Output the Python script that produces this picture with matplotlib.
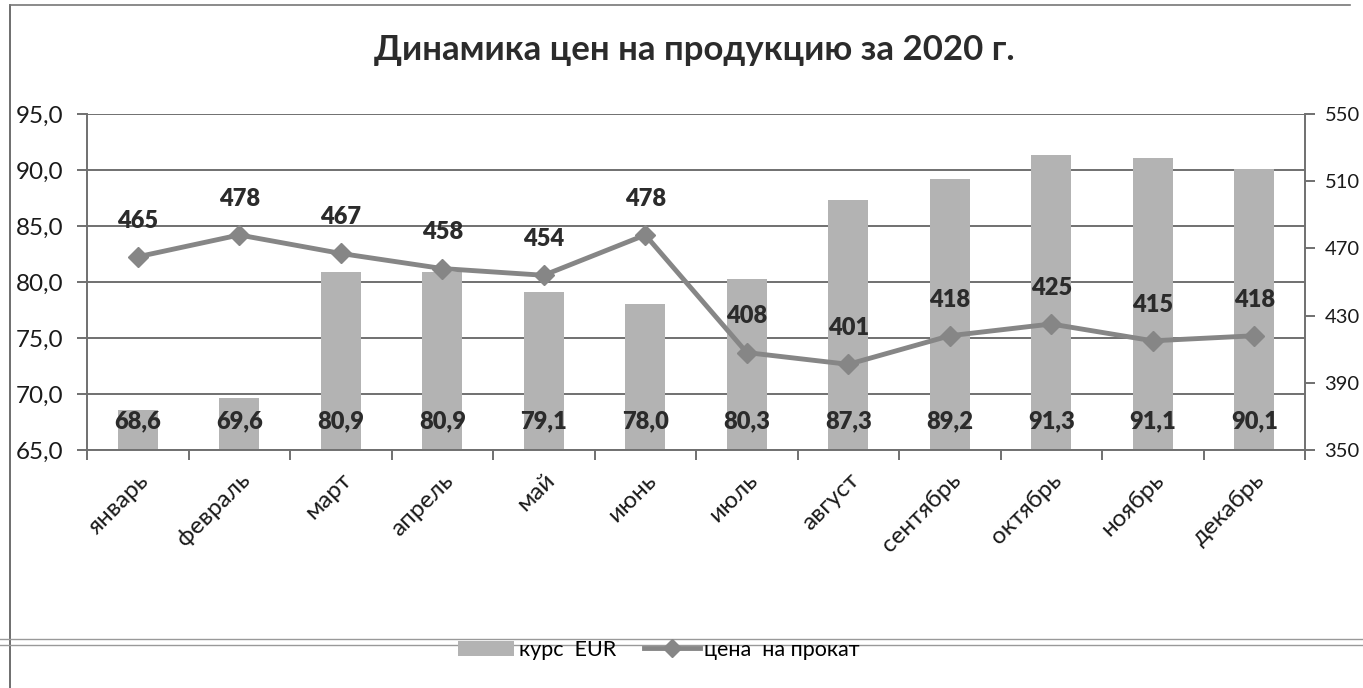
import matplotlib
matplotlib.use("Agg")
import matplotlib.pyplot as plt
from matplotlib.lines import Line2D
from matplotlib.patches import Patch
import numpy as np

plt.rcParams['font.family'] = ['Lato', 'DejaVu Sans']

months = ["январь", "февраль", "март", "апрель", "май", "июнь", "июль",
          "август", "сентябрь", "октябрь", "ноябрь", "декабрь"]
eur_rate = [68.6, 69.6, 80.9, 80.9, 79.1, 78.0, 80.3, 87.3, 89.2, 91.3, 91.1, 90.1]
rent_price = [465, 478, 467, 458, 454, 478, 408, 401, 418, 425, 415, 418]
left_ticks = [65, 70, 75, 80, 85, 90, 95]
right_ticks = [350, 390, 430, 470, 510, 550]
title = "Динамика цен на продукцию за 2020 г."
legend_labels = ["курс  EUR", "цена  на прокат"]

BAR_C = "#b3b3b3"
LINE_C = "#868686"
GRID_C = "#707070"
TXT_C = "#2b2b2b"

fig = plt.figure(figsize=(13.63, 6.88), dpi=100)
ax = fig.add_axes([87/1363, 1-450/688, (1305-87)/1363, (450-114)/688])
x = np.arange(len(months))

ax.bar(x, eur_rate, width=0.39, color=BAR_C, zorder=2)
ax.set_ylim(65, 95)
ax.set_xlim(-0.5, len(months) - 0.5)
ax.set_yticks(left_ticks)
ax.set_yticklabels([f"{v:.1f}".replace(".", ",") for v in left_ticks], fontsize=17.5, color="#1a1a1a")
ax.yaxis.grid(True, color=GRID_C, linewidth=1.4, zorder=0)
ax.set_axisbelow(True)
ax.set_xticks(x)
ax.set_xticklabels(months, rotation=45, ha="right", rotation_mode="anchor", fontsize=17.5, color="#1a1a1a")
ax.tick_params(axis="x", which="major", length=0, pad=14)
ax.set_xticks(np.arange(-0.5, len(months)), minor=True)
ax.tick_params(axis="x", which="minor", length=7, width=1.4, color=GRID_C, direction="out")
ax.tick_params(axis="y", length=7, width=1.4, color=GRID_C, pad=10)
for s in ["left", "bottom"]:
    ax.spines[s].set_color(GRID_C)
    ax.spines[s].set_linewidth(1.4)
ax.spines["top"].set_visible(False)
ax.spines["right"].set_visible(False)

for xi, v in zip(x, eur_rate):
    ax.annotate(f"{v:.1f}".replace(".", ","), (xi, 65), xytext=(0, 21), textcoords="offset points",
                ha="center", va="center", fontsize=17, fontweight="heavy", color=TXT_C, zorder=5)

ax2 = ax.twinx()
ax2.set_ylim(350, 550)
ax2.set_yticks(right_ticks)
ax2.set_yticklabels([str(v) for v in right_ticks], fontsize=14.5, color="#1a1a1a")
ax2.tick_params(axis="y", length=7, width=1.4, color=GRID_C, pad=7)
for s in ["top", "left", "bottom"]:
    ax2.spines[s].set_visible(False)
ax2.spines["right"].set_color(GRID_C)
ax2.spines["right"].set_linewidth(1.4)
ax2.plot(x, rent_price, color=LINE_C, linewidth=3.5, marker="D", markersize=10,
         markerfacecolor=LINE_C, markeredgecolor=LINE_C, zorder=3)
for xi, v in zip(x, rent_price):
    ax2.annotate(str(v), (xi, v), xytext=(0, 26), textcoords="offset points",
                 ha="center", va="center", fontsize=17, fontweight="heavy", color=TXT_C)

fig.text(694/1363, 1-50/688, title, ha="center", va="center", fontsize=25,
         fontweight="bold", color="#2b2b2b")

handles = [Patch(facecolor=BAR_C, edgecolor="none"),
           Line2D([0], [0], color=LINE_C, linewidth=3.5, marker="D", markersize=9,
                  markerfacecolor=LINE_C, markeredgecolor=LINE_C)]
fig.legend(handles, legend_labels, loc="center", bbox_to_anchor=(659/1363, 1-650/688),
           ncol=2, frameon=False, fontsize=15.5, handlelength=2.6, columnspacing=1.3,
           handletextpad=0.2)

# frame lines of the scanned chart
fig.add_artist(Line2D([10/1363, 10/1363], [0, 1-5/688], color="#555555", linewidth=1.2))
fig.add_artist(Line2D([10/1363, 1350/1363], [1-5/688, 1-5/688], color="#777777", linewidth=1.2))
fig.add_artist(Line2D([0, 1], [1-639/688, 1-639/688], color="#999999", linewidth=1.0))
fig.add_artist(Line2D([0, 1], [1-645/688, 1-645/688], color="#999999", linewidth=1.0))

fig.savefig("out.png", dpi=100)
